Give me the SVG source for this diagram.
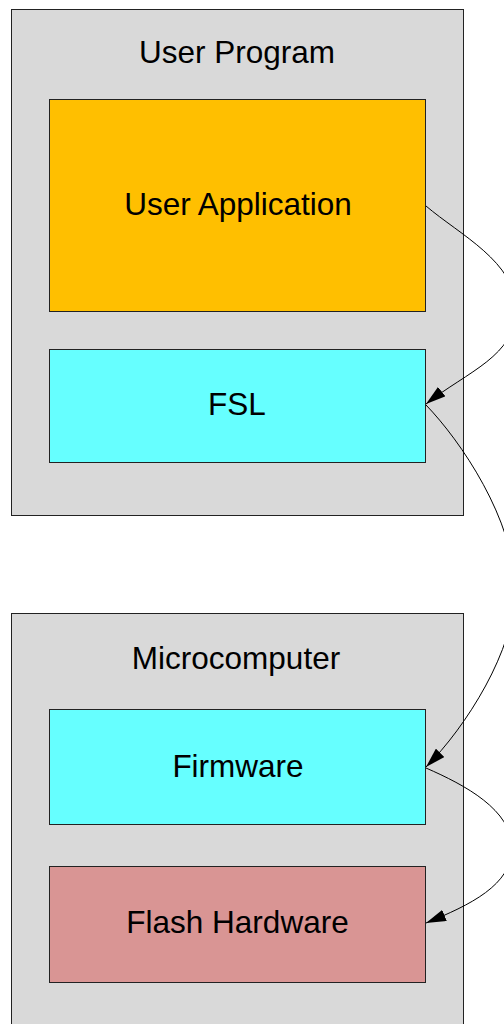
<svg xmlns="http://www.w3.org/2000/svg" width="504" height="1024" viewBox="0 0 504 1024">
<style>
.box{stroke:#222;stroke-width:1}
.outer{fill:#d9d9d9}
.yellow{fill:#ffbf00}
.cyan{fill:#66ffff}
.pink{fill:#d99594}
.lbl{font-family:"Liberation Sans",Arial,sans-serif;font-size:31.5px;fill:#000;text-anchor:middle}
.conn{fill:none;stroke:#000;stroke-width:1}
</style>
<defs>
<marker id="arr" viewBox="0 0 20 12" refX="20" refY="6" markerWidth="20" markerHeight="12" markerUnits="userSpaceOnUse" orient="auto">
<path d="M0,0 L20,6 L0,12 Z" fill="#000"/>
</marker>
</defs>
<rect width="504" height="1024" fill="#fff"/>
<g id="user-program">
<rect class="box outer" x="11.5" y="9.5" width="452" height="506"/>
<text class="lbl" x="237" y="62.5">User Program</text>
</g>
<g id="user-application">
<rect class="box yellow" x="49.5" y="99.5" width="376" height="212"/>
<text class="lbl" x="238" y="215">User Application</text>
</g>
<g id="fsl">
<rect class="box cyan" x="49.5" y="349.5" width="376" height="113"/>
<text class="lbl" x="237" y="414.5">FSL</text>
</g>
<g id="microcomputer">
<rect class="box outer" x="11.5" y="613.5" width="452" height="420"/>
<text class="lbl" x="236" y="668.5">Microcomputer</text>
</g>
<g id="firmware">
<rect class="box cyan" x="49.5" y="709.5" width="376" height="115"/>
<text class="lbl" x="238" y="776.5">Firmware</text>
</g>
<g id="flash-hardware">
<rect class="box pink" x="49.5" y="866.5" width="376" height="116"/>
<text class="lbl" x="237.5" y="933">Flash Hardware</text>
</g>
<g id="connectors">
<path class="conn" marker-end="url(#arr)" d="M426,206 C460,235 516,262 516,309 C516,356 468,371 426,404"/>
<path class="conn" marker-end="url(#arr)" d="M426,405 C460,440 515,520 515,590 C515,650 466,727 426,767"/>
<path class="conn" marker-end="url(#arr)" d="M426,768 C465,785 512,810 512,848 C512,885 470,905 426,923"/>
</g>
</svg>
